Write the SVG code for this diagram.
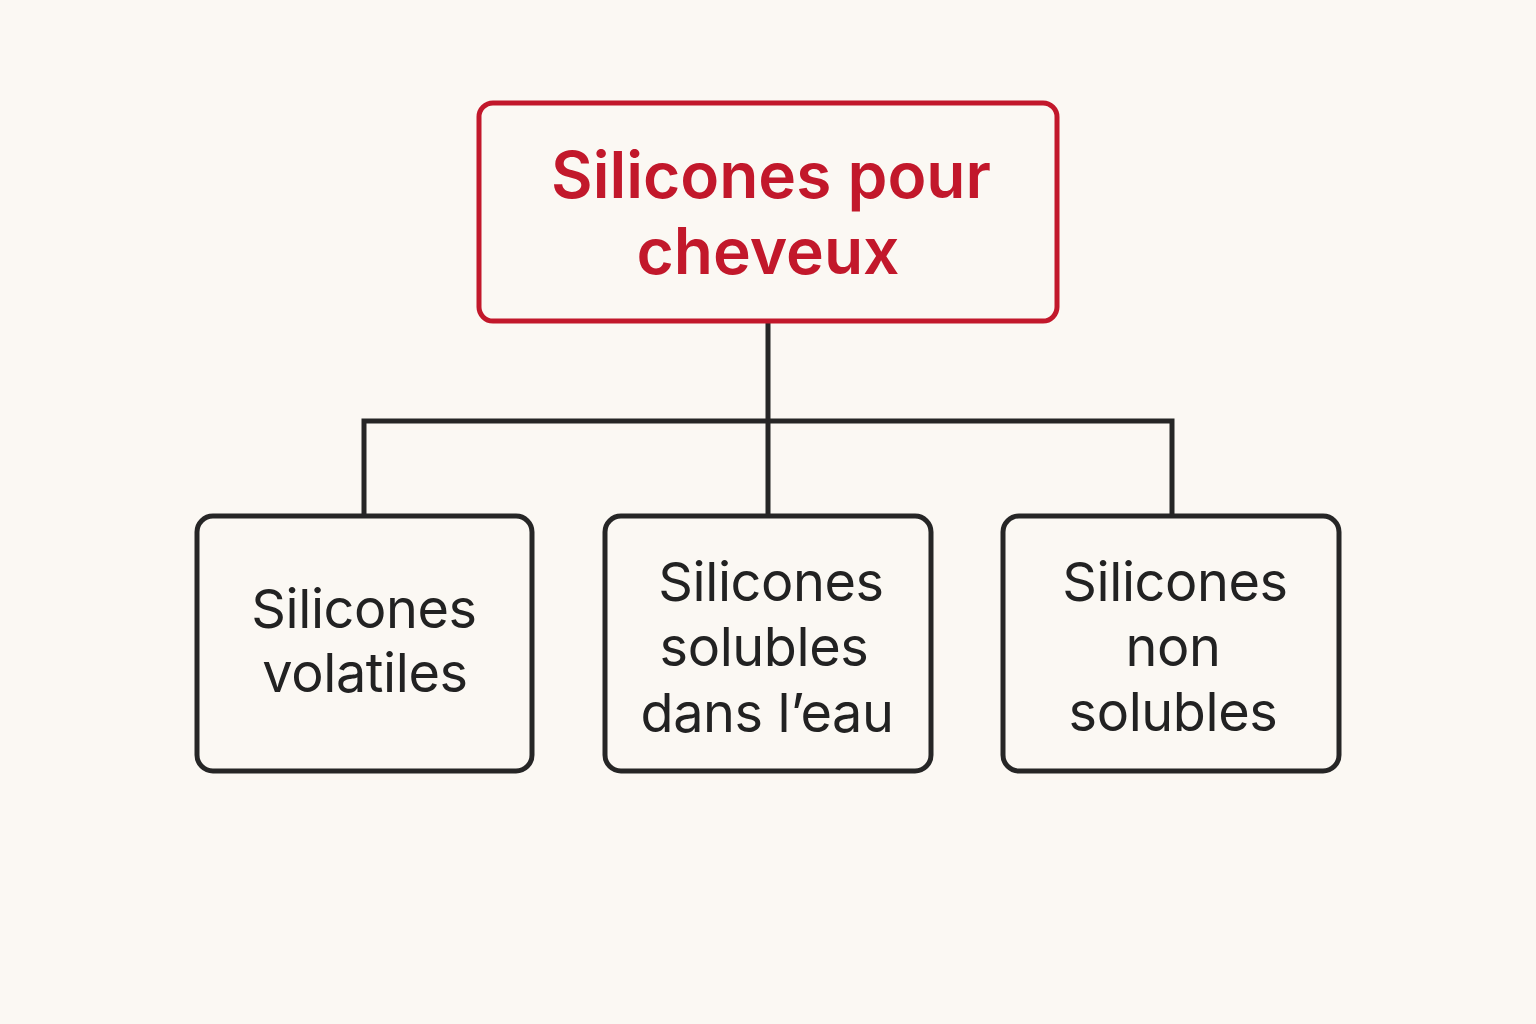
<svg xmlns="http://www.w3.org/2000/svg" width="1536" height="1024" viewBox="0 0 1536 1024">
<style>
.bg{fill:#FBF8F3}
.root{fill:#FBF8F3;stroke:#C2182B;stroke-width:5}
.box{fill:#FBF8F3;stroke:#262626;stroke-width:5}
.conn{fill:none;stroke:#262626;stroke-width:5;stroke-linejoin:miter}
.t1{font-family:Inter,"Liberation Sans",sans-serif;font-size:64px;font-weight:600;fill:#C2182B;text-anchor:middle}
.t2{font-family:Inter,"Liberation Sans",sans-serif;font-size:54px;font-weight:400;fill:#222222;text-anchor:middle;letter-spacing:-0.4px}
</style>
<rect class="bg" x="0" y="0" width="1536" height="1024"/>
<g id="connectors">
<path class="conn" d="M768 321 V421 M364 516 V421 H1172 V516 M768 421 V516"/>
</g>
<g id="root">
<rect class="root" x="479" y="103" width="578" height="218" rx="14"/>
<text class="t1" x="771" y="198">Silicones pour</text>
<text class="t1" x="768" y="274">cheveux</text>
</g>
<g id="volatiles">
<rect class="box" x="197" y="516" width="335" height="255" rx="16"/>
<text class="t2" x="364" y="628">Silicones</text>
<text class="t2" x="365" y="692">volatiles</text>
</g>
<g id="solubles">
<rect class="box" x="605" y="516" width="326" height="255" rx="16"/>
<text class="t2" x="771" y="601">Silicones</text>
<text class="t2" x="764" y="666">solubles</text>
<text class="t2" x="767" y="732">dans l’eau</text>
</g>
<g id="non-solubles">
<rect class="box" x="1003" y="516" width="336" height="255" rx="16"/>
<text class="t2" x="1175" y="601">Silicones</text>
<text class="t2" x="1173" y="666">non</text>
<text class="t2" x="1173" y="731">solubles</text>
</g>
</svg>
